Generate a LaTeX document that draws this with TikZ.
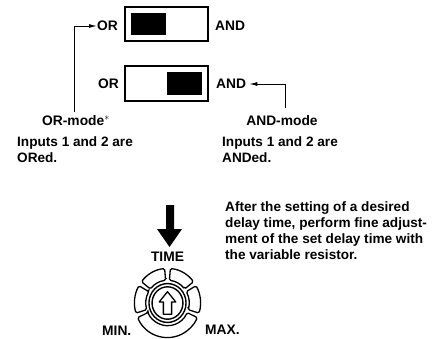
\documentclass[tikz,border=0pt]{standalone}
\usepackage{fontspec}
\usetikzlibrary{arrows.meta,calc}
\setmainfont{Liberation Sans}
\tikzset{
  lab/.style={font=\fontsize{13.8}{16}\selectfont\bfseries,inner sep=0pt},
  txt/.style={font=\fontsize{13.6}{16.3}\selectfont\bfseries,inner sep=0pt,align=left,anchor=north west},
  sw/.style={draw,line width=1.5pt,fill=white},
  blk/.style={fill=black},
  con/.style={line width=1pt},
  seg/.style={line width=1.3pt,draw,rounded corners=1.5pt},
  ring/.style={line width=1.4pt,draw}
}
\newcommand{\dialseg}[2]{%
  \draw[seg] (#1:21pt) -- (#1:32pt) arc[start angle=#1,end angle=#2,radius=32pt] -- (#2:21pt) arc[start angle=#2,end angle=#1,radius=21pt] -- cycle;}
\begin{document}
\begin{tikzpicture}[x=1pt,y=-1pt]
\useasboundingbox (0,0) rectangle (442,338);
\draw[sw] (125,7) rectangle (208,41);
\fill[blk] (131,13) rectangle (166,35);
\draw[sw] (125,66) rectangle (208,101);
\fill[blk] (167,72) rectangle (202,95);
\node[lab,anchor=west] (or1) at (97,26) {OR};
\node[lab,anchor=west] (and1) at (215,26) {AND};
\node[lab,anchor=west] (or2) at (98,84) {OR};
\node[lab,anchor=west] (and2) at (216,84) {AND};
\node[lab,anchor=center] (orm) at (76,121) {OR-mode$^{*}$};
\node[lab,anchor=center] (andm) at (282,121) {AND-mode};
\node[txt] (ort) at (17,136) {Inputs 1 and 2 are\\ORed.};
\node[txt] (andt) at (222,136) {Inputs 1 and 2 are\\ANDed.};
\node[txt] (aft) at (225,201) {After the setting of a desired\\delay time, perform fine adjust-\\ment of the set delay time with\\the variable resistor.};
\coordinate (p1) at (74,112);
\coordinate (p2) at (285,108);
\draw[con,-{Latex[length=8pt,width=4pt]}] (p1) |- (or1.west);
\draw[con,-{Latex[length=8pt,width=4pt]}] (p2) |- ([xshift=3pt]and2.east);
\fill (166,205) -- (174,205) -- (174,229) -- (182,229) -- (169.5,247) -- (157,229) -- (166,229) -- cycle;
\node[lab,anchor=center] (time) at (167.5,257) {TIME};
\node[lab,anchor=west] (min) at (102,331) {MIN.};
\node[lab,anchor=west] (max) at (205,330) {MAX.};
\begin{scope}[shift={(167.5,303)},y=1pt,xscale=1.03,yscale=1.08]
  \dialseg{95}{142}
  \dialseg{38}{85}
  \dialseg{150}{197}
  \dialseg{-17}{30}
  \dialseg{205}{335}
  \draw[ring] (0,0) circle[radius=18pt];
  \draw[ring] (0,0) circle[radius=15pt];
  \draw[line width=1.3pt,line join=round] (0,10.5) -- (8,1) -- (4,1) -- (4,-10.5) -- (-4,-10.5) -- (-4,1) -- (-8,1) -- cycle;
\end{scope}
\end{tikzpicture}
\end{document}
